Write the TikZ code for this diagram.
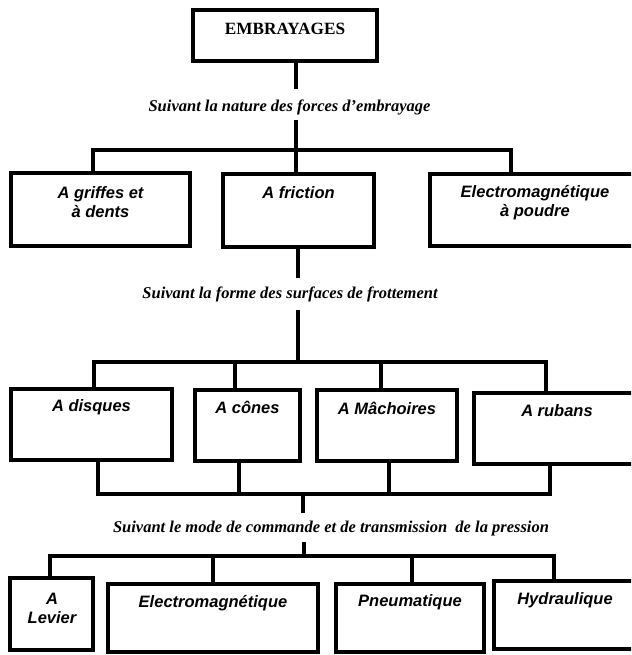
\documentclass[tikz,border=0pt]{standalone}
\usepackage{fontspec}
\setmainfont{Liberation Serif}
\setsansfont{Liberation Sans}
\begin{document}
\begin{tikzpicture}[x=1pt,y=-1pt,line width=3.4pt,
  box/.style={draw,rectangle,inner sep=0pt,outer sep=0pt,line width=3.4pt},
  btxt/.style={font=\sffamily\bfseries\itshape\fontsize{16.5}{19}\selectfont,align=center,inner sep=0pt},
  crit/.style={font=\rmfamily\bfseries\itshape\fontsize{16.5}{19}\selectfont,inner sep=0pt},
  ttl/.style={font=\rmfamily\bfseries\fontsize{17.2}{19}\selectfont,inner sep=0pt}]
\useasboundingbox (0,0) rectangle (631,655);
\clip (0,0) rectangle (631,655);
% boxes
\node[box,minimum width=184pt,minimum height=51pt] (emb) at (285,35.5) {};
\node[box,minimum width=179pt,minimum height=73pt] (g) at (100.5,209.5) {};
\node[box,minimum width=151pt,minimum height=73pt] (f) at (298.5,210.5) {};
\node[box,minimum width=210pt,minimum height=72pt] (p) at (535,210) {};
\node[box,minimum width=161pt,minimum height=71pt] (d) at (91.5,424.5) {};
\node[box,minimum width=105pt,minimum height=71pt] (c) at (247.5,425.5) {};
\node[box,minimum width=140pt,minimum height=71pt] (m) at (387,425.5) {};
\node[box,minimum width=166pt,minimum height=71pt] (r) at (557,428.5) {};
\node[box,minimum width=83pt,minimum height=72pt] (l) at (51.5,614) {};
\node[box,minimum width=210pt,minimum height=68pt] (em) at (213,618) {};
\node[box,minimum width=148pt,minimum height=68pt] (pn) at (410,618) {};
\node[box,minimum width=146pt,minimum height=68pt] (h) at (567,615) {};
% texts
\node[ttl] (embt) at (285,28.5) {EMBRAYAGES};
\node[btxt] (gt) at (100.5,202.5) {A griffes et\\à dents};
\node[btxt] (ft) at (298.5,193) {A friction};
\node[btxt] (pt) at (535,202.5) {Electromagnétique\\à poudre};
\node[btxt] (dt) at (91.5,407) {A disques};
\node[btxt] (ct) at (247.5,407) {A cônes};
\node[btxt] (mt) at (387,408) {A Mâchoires};
\node[btxt] (rt) at (557,411) {A rubans};
\node[btxt] (lt) at (52,608) {A\\Levier};
\node[btxt] (emt) at (213,603) {Electromagnétique};
\node[btxt] (pnt) at (410,602) {Pneumatique};
\node[btxt] (ht) at (565,600) {Hydraulique};
% criteria labels
\node[crit] (lab1) at (289.5,107) {Suivant la nature des forces d’embrayage};
\node[crit] (lab2) at (290,294) {Suivant la forme des surfaces de frottement};
\node[crit] (lab3) at (331,529) {Suivant le mode de commande et de transmission\hspace{0.5em}de la pression};
% coordinates
\coordinate (k1) at (296,89);
\coordinate (k2) at (296,120);
\coordinate (bus1) at (296,150);
\coordinate (k3) at (298,278);
\coordinate (k4) at (298,310);
\coordinate (bus2) at (298,362);
\coordinate (bus3) at (303,494);
\coordinate (k5) at (303,513);
\coordinate (k6) at (304,542);
\coordinate (bus4) at (304,556);
\foreach \xx in {93,511,94,235,381,546,98,239,389,550,50,213,412,554}
  \coordinate (x\xx) at (\xx,0);
% connectors level 1
\draw (k1 |- emb.south) -- (k1);
\draw (k2) -- (bus1);
\draw (g.north -| x93) |- (bus1) -| (p.north -| x511);
\draw (bus1) -- (f.north -| bus1);
% level 2
\draw (f.south -| k3) -- (k3);
\draw (k4) -- (bus2);
\draw (d.north -| x94) |- (bus2) -| (r.north -| x546);
\draw (c.north -| x235) -- (x235 |- bus2);
\draw (m.north -| x381) -- (x381 |- bus2);
% level 3
\draw (d.south -| x98) |- (bus3) -| (r.south -| x550);
\draw (c.south -| x239) -- (x239 |- bus3);
\draw (m.south -| x389) -- (x389 |- bus3);
\draw (bus3) -- (k5);
\draw (k6) -- (bus4);
\draw (l.north -| x50) |- (bus4) -| (h.north -| x554);
\draw (em.north -| x213) -- (x213 |- bus4);
\draw (pn.north -| x412) -- (x412 |- bus4);
\end{tikzpicture}
\end{document}
